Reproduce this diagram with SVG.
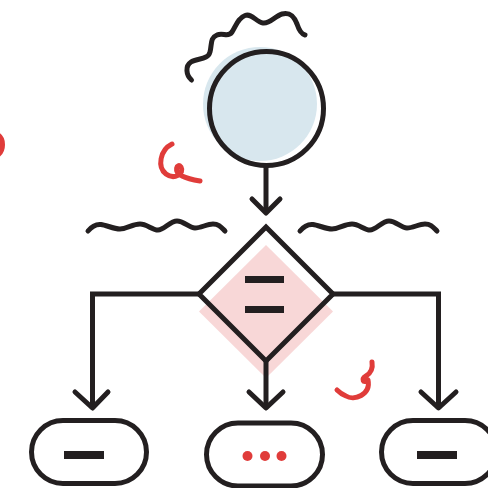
<svg xmlns="http://www.w3.org/2000/svg" width="488" height="488" viewBox="0 0 488 488">
<style>
.k{fill:none;stroke:#231f20;stroke-width:5;stroke-linecap:round;stroke-linejoin:round}
.c{fill:none;stroke:#231f20;stroke-width:5;stroke-linejoin:miter}
.r{fill:none;stroke:#e03c3a;stroke-width:5;stroke-linecap:round;stroke-linejoin:round}
.bar{fill:#231f20}
.dot{fill:#e03c3a}
</style>
<rect width="488" height="488" fill="#fff"/>
<g id="decor">
<path class="k" d="M191.5,80 C186,75 185,66 191,62 C197,58 208,60 210,52 C212,44 210,38 217,35 C223,32 228,38 232,32 C236,26 238,18 245,15.5 C252,13 256,22 263,23 C270,24 275,16 282,14 C290,12 294,16 297,24 C299,30 301,34 305,35"/>
<path class="k" d="M88,231 C92,226 96,224 101,224.5 S114,229 120,229 S133,224 140,224 S152,230 158,230 S170,221 177,221 S189,228 195,228 S207,224 213,224 S221,227 225,231"/>
<path class="k" d="M300,231 C304,226 308,224 313,224.5 S326,229 332,229 S345,224 352,224 S364,230 370,230 S382,221 389,221 S401,228 407,228 S419,224 425,224 S433,227 437,231"/>
<path class="r" d="M172,144 C160,150 157,167 166,174 C174,180 185,174 181,167 C177,162 173,172 182,176 C188,179 194,180 200,181"/>
<path class="r" d="M372,362 C373,368 371,373 366,376 C361,379 363,384 368,380 C371,395 354,401 346,396 C341,394 339,392 337,390"/>
<path class="r" d="M-2,135 C4,139 4,150 -2,155"/>
</g>
<g id="start">
<circle cx="260" cy="104" r="57" fill="#d8e7ee"/>
<circle cx="266.5" cy="108.5" r="57" fill="none" stroke="#231f20" stroke-width="5"/>
</g>
<g id="decision">
<polygon points="266,245 333,311.5 266,378 199,311.5" fill="#f8d7d7"/>
<polygon points="266,227 333,294 266,361 199,294" class="c"/>
<rect x="245" y="276" width="39" height="7" class="bar"/>
<rect x="245" y="306" width="39" height="7" class="bar"/>
</g>
<g id="connectors">
<path class="c" d="M266,167 V213"/>
<path class="k" d="M252,199 L266,213 L280,199"/>
<path class="c" d="M199,294 H92.5 V407"/>
<path class="k" d="M75,392 L92.5,408 L108,392"/>
<path class="c" d="M266,361 V407"/>
<path class="k" d="M249,392 L266,408 L283,392"/>
<path class="c" d="M333,294 H438.5 V407"/>
<path class="k" d="M421,392 L438.5,408 L456,392"/>
</g>
<g id="end-left">
<rect x="31.5" y="420.5" width="115" height="63" rx="31.5" fill="none" stroke="#231f20" stroke-width="5"/>
<rect x="64" y="451" width="40" height="8" class="bar"/>
</g>
<g id="end-middle">
<rect x="206.5" y="423" width="116" height="63" rx="31.5" fill="none" stroke="#231f20" stroke-width="5"/>
<circle cx="247.5" cy="456" r="5" class="dot"/>
<circle cx="265" cy="456" r="5" class="dot"/>
<circle cx="281.5" cy="456" r="5" class="dot"/>
</g>
<g id="end-right">
<rect x="381.5" y="420.5" width="115" height="63" rx="31.5" fill="none" stroke="#231f20" stroke-width="5"/>
<rect x="417" y="451" width="40" height="8" class="bar"/>
</g>
</svg>
